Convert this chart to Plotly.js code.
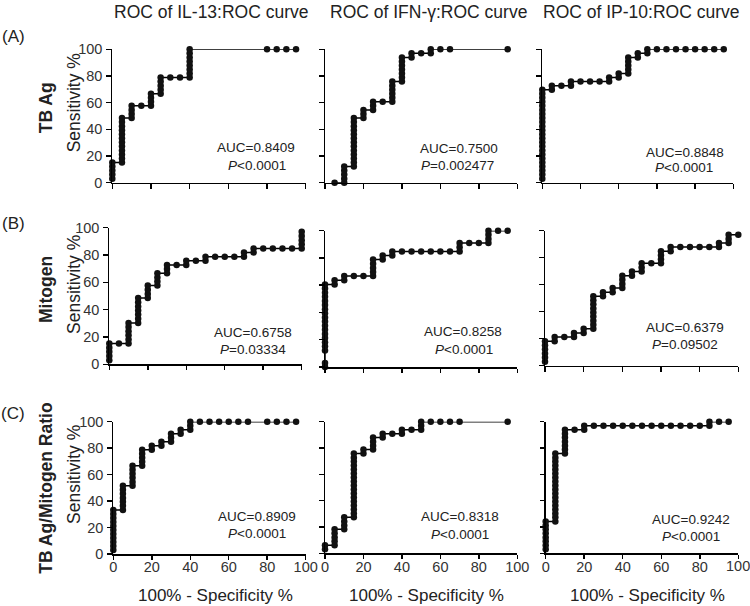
<!DOCTYPE html>
<html>
<head>
<meta charset="utf-8">
<script src="https://cdn.plot.ly/plotly-3.0.1.min.js"></script>
<style>html,body{margin:0;padding:0;background:#fff;}#chart{width:750px;height:606px;}</style>
</head>
<body>
<div id="chart"></div>
<script>
// ---- Data: x = 100% - Specificity %, y = Sensitivity % ----
const columnTitles = ["ROC of IL-13:ROC curve", "ROC of IFN-\u03b3:ROC curve", "ROC of IP-10:ROC curve"];
const rowLetters = ["(A)", "(B)", "(C)"];
const rowNames = ["TB Ag", "Mitogen", "TB Ag/Mitogen Ratio"];
const axisTicks = [0, 20, 40, 60, 80, 100];

// Row A: TB Ag
const il13TbX = [0,0,0,0,0, 5,5,5,5,5,5,5,5,5,5,5,5, 10,10,10,10, 15, 20,20,20,20, 25,25,25,25,25, 30, 35, 40,40,40,40,40,40,40,40, 80,85,90,95];
const il13TbY = [3.0,6.1,9.1,12.1,15.2, 15.2,18.2,21.2,24.2,27.3,30.3,33.3,36.4,39.4,42.4,45.5,48.5, 48.5,51.5,54.5,57.6, 57.6, 57.6,60.6,63.6,66.7, 66.7,69.7,72.7,75.8,78.8, 78.8, 78.8, 78.8,81.8,84.8,87.9,90.9,93.9,97.0,100, 100,100,100,100];

const ifnTbX = [5, 10,10,10,10,10, 15,15,15,15,15,15,15,15,15,15,15,15,15, 20,20,20, 25,25,25, 30, 35,35,35,35,35,35, 40,40,40,40,40,40,40, 45,45, 50, 55,55, 60, 65, 95];
const ifnTbY = [0, 0,3.0,6.1,9.1,12.1, 12.1,15.2,18.2,21.2,24.2,27.3,30.3,33.3,36.4,39.4,42.4,45.5,48.5, 48.5,51.5,54.5, 54.5,57.6,60.6, 60.6, 60.6,63.6,66.7,69.7,72.7,75.8, 75.8,78.8,81.8,84.8,87.9,90.9,93.9, 93.9,97.0, 97.0, 97.0,100, 100, 100, 100];

const ip10TbX = [0,0,0,0,0,0,0,0,0,0,0,0,0,0,0,0,0,0,0,0,0,0,0, 5,5, 10, 15,15, 20, 25, 30, 35,35, 40,40, 45,45,45,45,45, 50,50, 55,55, 60,65,70,75,80,85,90,95];
const ip10TbY = [3.0,6.1,9.1,12.1,15.2,18.2,21.2,24.2,27.3,30.3,33.3,36.4,39.4,42.4,45.5,48.5,51.5,54.5,57.6,60.6,63.6,66.7,69.7, 69.7,72.7, 72.7, 72.7,75.8, 75.8, 75.8, 75.8, 75.8,78.8, 78.8,81.8, 81.8,84.8,87.9,90.9,93.9, 93.9,97.0, 97.0,100, 100,100,100,100,100,100,100,100];

// Row B: Mitogen
const il13MitX = [0,0,0,0,0, 5, 10,10,10,10,10,10, 15,15,15,15,15,15,15, 20,20,20,20, 25,25,25,25, 30,30,30, 35, 40,40, 45, 50,50, 55, 60, 65, 70,70, 75,75, 80, 85, 90, 95, 100,100,100,100,100];
const il13MitY = [3.0,6.1,9.1,12.1,15.2, 15.2, 15.2,18.2,21.2,24.2,27.3,30.3, 30.3,33.3,36.4,39.4,42.4,45.5,48.5, 48.5,51.5,54.5,57.6, 57.6,60.6,63.6,66.7, 66.7,69.7,72.7, 72.7, 72.7,75.8, 75.8, 75.8,78.8, 78.8, 78.8, 78.8, 78.8,81.8, 81.8,84.8, 84.8, 84.8, 84.8, 84.8, 84.8,87.9,90.9,93.9,97.0];

const ifnMitX = [0,0,0,0,0,0,0,0,0,0,0,0,0,0,0,0,0,0,0, 5,5, 10,10, 15, 20, 25,25,25,25,25, 30,30, 35,35, 40, 45, 50, 55, 60, 65, 70,70,70, 75, 80, 85,85,85,85, 90, 95];
const ifnMitY = [0,3.0,12.1,15.2,18.2,21.2,24.2,27.3,30.3,33.3,36.4,39.4,42.4,45.5,48.5,51.5,54.5,57.6,60.6, 60.6,63.6, 63.6,66.7, 66.7, 66.7, 66.7,69.7,72.7,75.8,78.8, 78.8,81.8, 81.8,84.8, 84.8, 84.8, 84.8, 84.8, 84.8, 84.8, 84.8,87.9,90.9, 90.9, 90.9, 90.9,93.9,97.0,100, 100, 100];

const ip10MitX = [0,0,0,0,0,0, 5,5, 10, 15,15, 20,20, 25,25,25,25,25,25,25,25,25, 30,30, 35,35, 40,40,40,40, 45,45, 50,50,50, 55, 60,60,60,60, 65,65, 70, 75, 80, 85, 90,90, 95,95,95, 100];
const ip10MitY = [3.0,6.1,9.1,12.1,15.2,18.2, 18.2,21.2, 21.2, 21.2,24.2, 24.2,27.3, 27.3,30.3,33.3,36.4,39.4,42.4,45.5,48.5,51.5, 51.5,54.5, 54.5,57.6, 57.6,60.6,63.6,66.7, 66.7,69.7, 69.7,72.7,75.8, 75.8, 75.8,78.8,81.8,84.8, 84.8,87.9, 87.9, 87.9, 87.9, 87.9, 87.9,90.9, 90.9,93.9,97.0, 97.0];

// Row C: TB Ag/Mitogen Ratio
const il13RatioX = [0,0,0,0,0,0,0,0,0,0,0, 5,5,5,5,5,5,5, 10,10,10,10,10,10, 15,15,15,15,15, 20,20, 25,25, 30,30,30, 35,35, 40,40,40, 45,50,55,60,65,70, 80,85,90,95];
const il13RatioY = [3.0,6.1,9.1,12.1,15.2,18.2,21.2,24.2,27.3,30.3,33.3, 33.3,36.4,39.4,42.4,45.5,48.5,51.5, 51.5,54.5,57.6,60.6,63.6,66.7, 66.7,69.7,72.7,75.8,78.8, 78.8,81.8, 81.8,84.8, 84.8,87.9,90.9, 90.9,93.9, 93.9,97.0,100, 100,100,100,100,100,100, 100,100,100,100];

const ifnRatioX = [0,0, 5,5,5,5,5, 10,10,10,10, 15,15,15,15,15,15,15,15,15,15,15,15,15,15,15,15,15, 20,20, 25,25,25,25, 30,30, 35, 40,40, 45, 50,50,50, 55,60,65,70, 95];
const ifnRatioY = [3.0,6.1, 6.1,9.1,12.1,15.2,18.2, 18.2,21.2,24.2,27.3, 27.3,30.3,33.3,36.4,39.4,42.4,45.5,48.5,51.5,54.5,57.6,60.6,63.6,66.7,69.7,72.7,75.8, 75.8,78.8, 78.8,81.8,84.8,87.9, 87.9,90.9, 90.9, 90.9,93.9, 93.9, 93.9,97.0,100, 100,100,100,100, 100];

const ip10RatioX = [0,0,0,0,0,0,0,0, 5,5,5,5,5,5,5,5,5,5,5,5,5,5,5,5,5,5, 10,10,10,10,10,10,10, 15, 20,20, 25,30,35,40,45,50,55,60,65,70,75,80, 85,85, 90, 95];
const ip10RatioY = [3.0,6.1,9.1,12.1,15.2,18.2,21.2,24.2, 24.2,27.3,30.3,33.3,36.4,39.4,42.4,45.5,48.5,51.5,54.5,57.6,60.6,63.6,66.7,69.7,72.7,75.8, 75.8,78.8,81.8,84.8,87.9,90.9,93.9, 93.9, 93.9,97.0, 97.0,97.0,97.0,97.0,97.0,97.0,97.0,97.0,97.0,97.0,97.0,97.0, 97.0,100, 100, 100];

const aucLabels = ["AUC=0.8409","AUC=0.7500","AUC=0.8848","AUC=0.6758","AUC=0.8258","AUC=0.6379","AUC=0.8909","AUC=0.8318","AUC=0.9242"];
const pLabels = ["<i>P</i>&lt;0.0001","<i>P</i>=0.002477","<i>P</i>&lt;0.0001","<i>P</i>=0.03334","<i>P</i>&lt;0.0001","<i>P</i>=0.09502","<i>P</i>&lt;0.0001","<i>P</i>&lt;0.0001","<i>P</i>&lt;0.0001"];
const xTitle = "100% - Specificity %";
const yTitle = "Sensitivity %";

// ---- Layout geometry (pixels) ----
const W = 750, H = 606;
const FONT = "Liberation Sans, Arial, Helvetica, sans-serif";
const TICKFONT = {family: FONT, size: 14.5, color: "#333"};
const panels = [
  {x: il13TbX, y: il13TbY},  {x: ifnTbX, y: ifnTbY},  {x: ip10TbX, y: ip10TbY},
  {x: il13MitX, y: il13MitY},{x: ifnMitX, y: ifnMitY},{x: ip10MitX, y: ip10MitY},
  {x: il13RatioX, y: il13RatioY},{x: ifnRatioX, y: ifnRatioY},{x: ip10RatioX, y: ip10RatioY}
];
// [x0, x1, yTop(100), yBottom(0)] in px
const boxes = [
  [112.3,305.7,49.3,182.7],[325,517.3,49.3,182.7],[542.3,733.3,49.3,182.7],
  [109.3,301.7,227.7,364.3],[325,517.3,230.7,367],[545,738.3,230.7,365.7],
  [113.3,305.7,421.7,554],[325,517.3,421.7,553.3],[545.7,738.3,421.7,553.3]
];
const aucPos = [
  [256,147.7,256.5,165],[459,148,457.5,165],[684.7,152.3,684.3,167.7],
  [252.5,332.7,252.5,349.3],[462.7,331,464.5,349],[684.7,327.7,684.7,345],
  [256.7,516,257,533.3],[460,516.7,459.8,534],[691.3,519.3,691.3,536]
];
const px = v => v / W;
const py = v => 1 - v / H;

const traces = [];
const layout = {
  width: W, height: H,
  margin: {l: 0, r: 0, t: 0, b: 0},
  paper_bgcolor: "#fff", plot_bgcolor: "rgba(0,0,0,0)",
  showlegend: false,
  font: {family: FONT, color: "#000"},
  annotations: []
};

panels.forEach((p, i) => {
  const n = i + 1;
  const xa = n === 1 ? "x" : "x" + n;
  const ya = n === 1 ? "y" : "y" + n;
  traces.push({
    type: "scatter", mode: "lines+markers", x: p.x, y: p.y,
    xaxis: xa, yaxis: ya, cliponaxis: false,
    line: {color: "#000", width: 1.5},
    marker: {color: "#111", size: 6.5},
    hoverinfo: "skip"
  });
  const b = boxes[i];
  const row = Math.floor(i / 3), col = i % 3;
  const common = {
    range: [0, 100], tickvals: axisTicks, ticktext: axisTicks.map(String),
    showline: true, linecolor: "#000", linewidth: 1.5,
    ticks: "outside", ticklen: 4.5, tickwidth: 1.5, tickcolor: "#000",
    showgrid: false, zeroline: false, fixedrange: true,
    ticklabeloverflow: "allow",
    tickfont: TICKFONT
  };
  // last column's "100" sits on the page edge; it is written as an annotation below
  const xText = axisTicks.map(t => (col === 2 && t === 100) ? "" : String(t));
  layout[n === 1 ? "xaxis" : "xaxis" + n] = Object.assign({}, common, {
    domain: [px(b[0]), px(b[1])], anchor: ya, ticktext: xText,
    showticklabels: row === 2, ticklabelstandoff: -5
  });
  layout[n === 1 ? "yaxis" : "yaxis" + n] = Object.assign({}, common, {
    domain: [py(b[3]), py(b[2])], anchor: xa,
    showticklabels: col === 0, ticklabelstandoff: 1
  });
  if (row === 2 && col === 2) {
    layout.annotations.push({text: String(axisTicks[axisTicks.length - 1]), xref: xa, yref: "paper",
      x: 100, y: py(565.5), xanchor: "center", yanchor: "middle", showarrow: false, font: TICKFONT});
  }
  const a = aucPos[i];
  layout.annotations.push({text: aucLabels[i], xref: "paper", yref: "paper", x: px(a[0]), y: py(a[1]),
    xanchor: "center", yanchor: "middle", showarrow: false, font: {size: 13.5, color: "#222"}});
  layout.annotations.push({text: pLabels[i], xref: "paper", yref: "paper", x: px(a[2]), y: py(a[3]),
    xanchor: "center", yanchor: "middle", showarrow: false, font: {size: 13.5, color: "#222"}});
});

// Column titles
const colTitleX = [211.7, 428.3, 640.8];
columnTitles.forEach((t, c) => {
  layout.annotations.push({text: t, xref: "paper", yref: "paper", x: px(colTitleX[c]), y: py(12.5),
    xanchor: "center", yanchor: "middle", showarrow: false, font: {size: 17.5, color: "#222"}});
});
// X-axis titles
const xTitleX = [215, 426.7, 647.5];
xTitleX.forEach(xx => {
  layout.annotations.push({text: xTitle, xref: "paper", yref: "paper", x: px(xx), y: py(595),
    xanchor: "center", yanchor: "middle", showarrow: false, font: {size: 17, color: "#222"}});
});
// Row letters, row names, y titles
const letterY = [36, 223.3, 413];
const nameY = [108.3, 290, 488.8];
const sensY = [103.3, 285, 475];
rowLetters.forEach((t, r) => {
  layout.annotations.push({text: t, xref: "paper", yref: "paper", x: px(13.5), y: py(letterY[r]),
    xanchor: "center", yanchor: "middle", showarrow: false, font: {size: 17, color: "#222"}});
  layout.annotations.push({text: "<b>" + rowNames[r] + "</b>", xref: "paper", yref: "paper", x: px(46), y: py(nameY[r]),
    xanchor: "center", yanchor: "middle", textangle: -90, showarrow: false, font: {size: 17.5, color: "#222"}});
  layout.annotations.push({text: yTitle, xref: "paper", yref: "paper", x: px(74), y: py(sensY[r]),
    xanchor: "center", yanchor: "middle", textangle: -90, showarrow: false, font: {size: 17.5, color: "#222"}});
});

Plotly.newPlot("chart", traces, layout, {displayModeBar: false, staticPlot: true});
</script>
</body>
</html>
